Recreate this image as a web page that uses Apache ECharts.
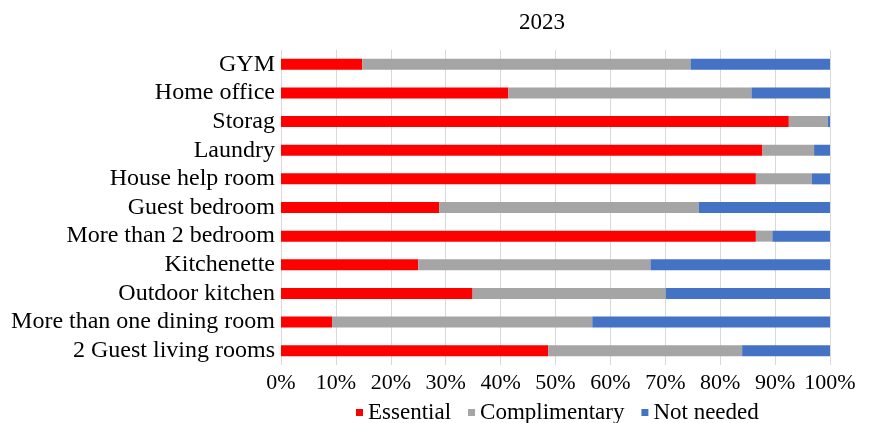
<!DOCTYPE html>
<html>
<head>
<meta charset="utf-8">
<script src="https://cdn.jsdelivr.net/npm/echarts@6/dist/echarts.min.js"></script>
<style>
  html, body { margin: 0; padding: 0; background: #fff; }
  #main { width: 872px; height: 423px; }
</style>
</head>
<body>
<div id="main"></div>
<script>
var categories = ["GYM", "Home office", "Storag", "Laundry", "House help room", "Guest bedroom",
  "More than 2 bedroom", "Kitchenette", "Outdoor kitchen", "More than one dining room", "2 Guest living rooms"]
var essential = [14.8, 41.4, 92.5, 87.7, 86.5, 28.8, 86.5, 25.0, 34.9, 9.3, 48.7]
var complimentary = [59.8, 44.3, 7.1, 9.4, 10.2, 47.3, 3.0, 42.3, 35.2, 47.4, 35.3]
var notNeeded = [25.4, 14.3, 0.4, 2.9, 3.3, 23.9, 10.5, 32.7, 29.9, 43.3, 16.0]

var font = "Liberation Serif"
var chartDom = document.getElementById("main")
var myChart = echarts.init(chartDom)
var option

function bar(name, data, color) {
  return {
    name: name,
    type: "bar",
    stack: "total",
    barWidth: 11,
    itemStyle: { color: color },
    data: data
  }
}

option = {
  animation: false,
  title: {
    text: "2023",
    left: 514,
    top: 6,
    textStyle: { fontFamily: font, fontSize: 23, fontWeight: "normal", color: "#000" }
  },
  legend: {
    left: 351,
    top: 396,
    icon: "rect",
    itemWidth: 7,
    itemHeight: 7,
    itemGap: 17,
    textStyle: { fontFamily: font, fontSize: 23, color: "#000" },
    data: ["Essential", "Complimentary", "Not needed"]
  },
  grid: {
    left: 281,
    right: 42,
    top: 50,
    bottom: 58,
    containLabel: false
  },
  xAxis: {
    type: "value",
    min: 0,
    max: 100,
    interval: 10,
    axisLine: { show: false },
    axisTick: { show: false },
    splitLine: { lineStyle: { color: "#d9d9d9", width: 1 } },
    axisLabel: {
      formatter: "{value}%",
      margin: 7,
      fontFamily: font,
      fontSize: 22,
      color: "#000"
    }
  },
  yAxis: {
    type: "category",
    inverse: true,
    data: categories,
    axisLine: { show: false },
    axisTick: { show: false },
    axisLabel: { interval: 0, margin: 6, fontFamily: font, fontSize: 24, color: "#000" }
  },
  series: [
    bar("Essential", essential, "#ff0000"),
    bar("Complimentary", complimentary, "#a5a5a5"),
    bar("Not needed", notNeeded, "#4472c4")
  ]
}

option && myChart.setOption(option)
</script>
</body>
</html>
